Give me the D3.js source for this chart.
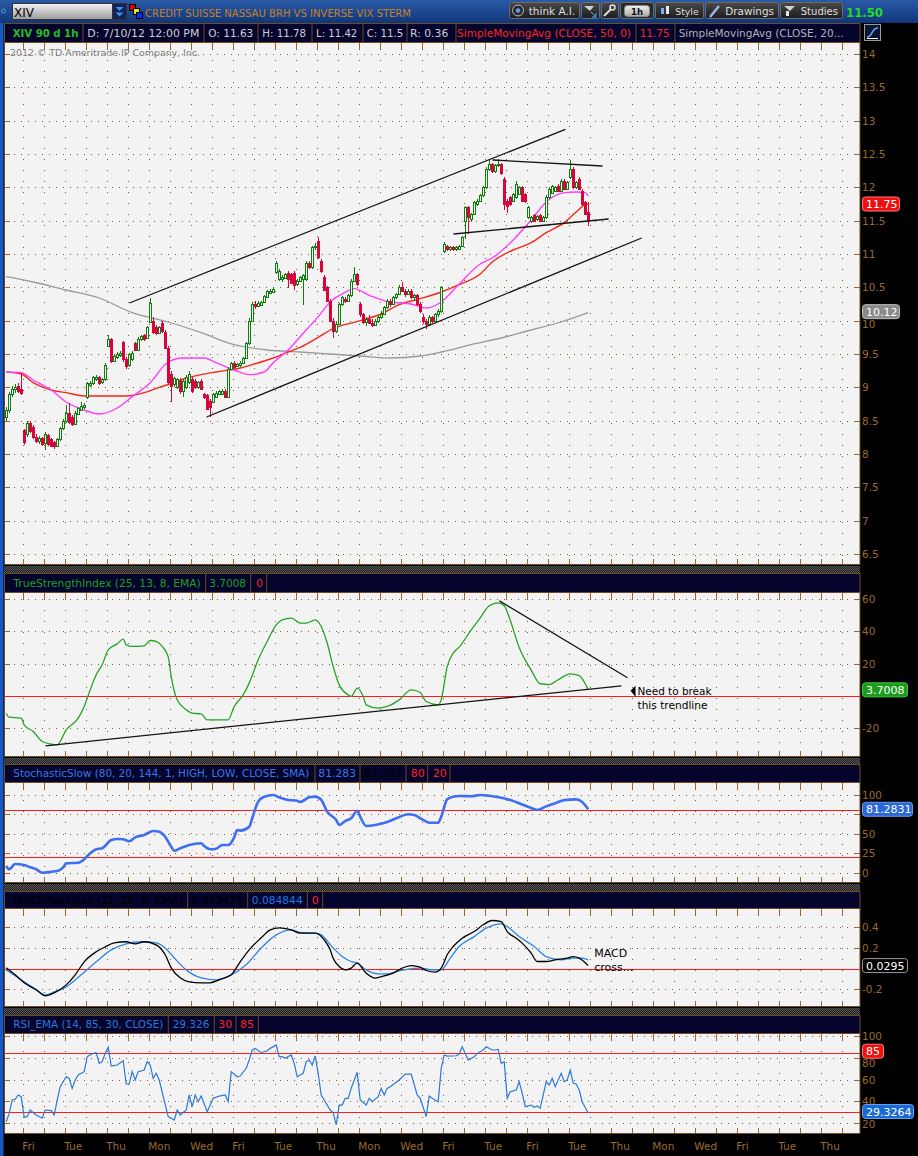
<!DOCTYPE html>
<html><head><meta charset="utf-8">
<script src="https://cdn.jsdelivr.net/npm/d3@7"></script>
<style>
html,body{margin:0;padding:0;background:#000;}
svg{display:block;font-family:"DejaVu Sans",sans-serif;}
</style></head><body><svg id="c" width="918" height="1156"></svg>
<script>
// ---------------- DATA ----------------
const dayLabels = ["Thu","Fri","Mon","Tue","Wed","Thu","Fri","Mon","Tue","Wed","Thu","Fri","Mon","Tue","Wed","Thu","Fri","Mon","Tue","Wed","Thu","Fri","Mon","Tue","Thu","Fri","Mon","Tue","Wed","Thu","Fri","Mon","Tue","Wed","Thu","Fri","Mon","Tue","Wed","Thu","Fri"];
const BARS_PER_DAY = 7;
const priceTicks = [6.5,7,7.5,8,8.5,9,9.5,10,10.5,11,11.5,12,12.5,13,13.5,14];
const tsiTicks = [60,40,20,0,-20];
const stochTicks = [100,75,50,25,0];
const macdTicks = [0.4,0.2,0,-0.2];
const rsiTicks = [100,80,60,40,20];

// hourly candles [open, high, low, close]
const ohlc = [
 [8.78,8.82,8.55,8.6],[8.55,8.7,8.5,8.66],[8.66,8.93,8.62,8.9],[8.9,9.02,8.86,8.98],[8.98,9.05,8.92,9.01],[9.02,9.06,8.92,8.95],[8.98,9.22,8.88,8.92],
 [8.36,8.38,8.13,8.18],[8.3,8.5,8.26,8.47],[8.46,8.5,8.32,8.35],[8.4,8.43,8.22,8.25],[8.25,8.3,8.16,8.2],[8.2,8.27,8.15,8.24],[8.24,8.26,8.12,8.15],
 [8.17,8.33,8.06,8.3],[8.28,8.3,8.12,8.15],[8.22,8.24,8.1,8.12],[8.18,8.2,8.08,8.12],[8.12,8.24,8.1,8.22],[8.22,8.41,8.2,8.39],[8.39,8.52,8.36,8.5],
 [8.5,8.74,8.47,8.62],[8.62,8.76,8.45,8.48],[8.55,8.58,8.42,8.45],[8.45,8.64,8.43,8.62],[8.6,8.71,8.58,8.69],[8.66,8.78,8.64,8.72],[8.7,8.76,8.68,8.74],
 [8.85,9.08,8.82,9.06],[9.03,9.1,9.0,9.07],[9.06,9.17,9.04,9.15],[9.12,9.19,9.1,9.16],[9.15,9.17,9.04,9.06],[9.08,9.14,9.05,9.12],[9.12,9.36,9.1,9.34],
 [9.62,9.79,9.6,9.72],[9.72,9.74,9.36,9.4],[9.4,9.5,9.38,9.47],[9.45,9.53,9.43,9.5],[9.48,9.55,9.46,9.52],[9.68,9.7,9.38,9.42],[9.42,9.45,9.28,9.32],
 [9.33,9.52,9.3,9.5],[9.42,9.55,9.4,9.52],[9.66,9.68,9.54,9.56],[9.56,9.75,9.54,9.73],[9.72,9.79,9.7,9.77],[9.78,9.8,9.7,9.72],[9.74,9.92,9.72,9.9],
 [9.98,10.34,9.96,10.27],[10.0,10.06,9.8,9.83],[9.9,9.93,9.79,9.81],[9.82,9.92,9.8,9.9],[9.96,9.99,9.82,9.84],[9.83,9.86,9.57,9.59],[9.59,9.62,9.05,9.08],
 [9.2,9.25,8.78,9.02],[9.05,9.16,9.0,9.14],[9.0,9.14,8.97,9.12],[9.11,9.14,8.9,8.94],[8.94,9.12,8.85,9.1],[9.0,9.18,8.98,9.15],[9.08,9.25,9.05,9.2],
 [9.12,9.15,8.92,8.95],[9.1,9.12,8.98,9.0],[9.0,9.1,8.97,9.08],[9.1,9.12,8.96,8.98],[8.9,8.92,8.83,8.85],[8.88,8.9,8.66,8.68],[8.8,8.82,8.55,8.7],
 [8.78,8.92,8.76,8.9],[8.86,8.94,8.84,8.92],[8.9,8.96,8.88,8.94],[8.9,8.97,8.88,8.95],[8.95,8.97,8.84,8.86],[8.86,9.3,8.84,9.28],[9.28,9.38,9.26,9.36],
 [9.37,9.4,9.28,9.3],[9.32,9.37,9.3,9.35],[9.33,9.4,9.31,9.37],[9.37,9.46,9.35,9.44],[9.44,9.68,9.42,9.66],[9.66,10.04,9.64,10.0],[10.0,10.28,9.98,10.25],
 [10.25,10.29,10.18,10.22],[10.22,10.3,10.2,10.27],[10.24,10.3,10.22,10.28],[10.28,10.39,10.26,10.37],[10.36,10.46,10.34,10.44],[10.42,10.47,10.4,10.45],[10.43,10.5,10.41,10.47],
 [10.73,10.9,10.7,10.87],[10.63,10.77,10.6,10.75],[10.62,10.68,10.58,10.66],[10.64,10.72,10.62,10.7],[10.72,10.74,10.49,10.62],[10.7,10.72,10.55,10.57],[10.72,10.74,10.46,10.54],
 [10.55,10.62,10.52,10.6],[10.6,10.67,10.58,10.65],[10.63,10.7,10.24,10.68],[10.62,10.89,10.6,10.87],[10.87,10.9,10.78,10.8],[10.8,11.12,10.78,11.1],[11.1,11.16,11.06,11.12],
 [11.2,11.25,10.93,10.95],[10.9,10.92,10.72,10.75],[10.65,10.68,10.44,10.46],[10.5,10.52,10.28,10.3],[10.3,10.33,9.98,10.0],[10.0,10.04,9.74,9.85],[9.85,9.98,9.82,9.95],
 [9.95,10.27,9.93,10.25],[10.25,10.37,10.22,10.35],[10.33,10.36,10.26,10.3],[10.3,10.4,10.28,10.38],[10.38,10.62,10.36,10.6],[10.6,10.8,10.58,10.7],[10.7,10.72,10.52,10.55],
 [10.25,10.28,10.05,10.1],[10.1,10.12,9.95,9.98],[9.98,10.05,9.92,10.02],[10.02,10.08,9.95,9.97],[9.97,10.03,9.9,9.94],[9.94,10.02,9.92,10.0],[10.0,10.08,9.97,10.05],
 [10.05,10.14,10.02,10.1],[10.1,10.22,10.08,10.2],[10.2,10.32,10.17,10.3],[10.3,10.33,10.2,10.25],[10.25,10.37,10.23,10.35],[10.35,10.42,10.32,10.4],[10.4,10.53,10.38,10.5],
 [10.5,10.58,10.43,10.45],[10.45,10.48,10.36,10.4],[10.4,10.48,10.38,10.45],[10.45,10.47,10.32,10.35],[10.35,10.4,10.3,10.38],[10.38,10.4,10.22,10.25],[10.25,10.28,10.12,10.15],
 [10.05,10.1,9.95,10.0],[10.0,10.03,9.88,9.95],[9.95,10.08,9.92,10.05],[10.05,10.07,9.96,10.0],[10.0,10.12,9.98,10.1],[10.1,10.18,10.06,10.15],[10.15,10.52,10.12,10.5],
 [11.05,11.18,11.02,11.15],[11.12,11.14,11.05,11.08],[11.08,11.12,11.05,11.1],[11.1,11.12,11.04,11.07],[11.07,11.12,11.05,11.1],[11.08,11.14,11.06,11.12],[11.12,11.27,11.1,11.25],
 [11.5,11.72,11.22,11.7],[11.7,11.72,11.3,11.55],[11.52,11.62,11.48,11.6],[11.6,11.8,11.58,11.78],[11.75,11.83,11.72,11.8],[11.8,11.9,11.78,11.88],[11.88,12.02,11.86,12.0],
 [12.0,12.3,11.98,12.28],[12.28,12.42,12.25,12.35],[12.35,12.37,12.22,12.25],[12.25,12.35,12.22,12.33],[12.33,12.42,12.3,12.35],[12.35,12.37,12.18,12.22],[12.12,12.15,11.66,11.75],
 [11.8,11.82,11.62,11.72],[11.85,11.87,11.72,11.75],[11.8,11.92,11.78,11.9],[11.85,12.1,11.83,12.05],[11.9,12.02,11.88,12.0],[12.0,12.02,11.78,11.8],[11.9,11.92,11.76,11.8],
 [11.55,11.72,11.52,11.7],[11.5,11.57,11.47,11.55],[11.58,11.6,11.48,11.5],[11.52,11.59,11.5,11.57],[11.58,11.6,11.48,11.5],[11.5,11.57,11.48,11.55],[11.55,11.88,11.53,11.85],
 [11.85,12.0,11.83,11.98],[11.92,12.04,11.9,12.02],[11.95,12.02,11.93,12.0],[12.02,12.05,11.93,11.95],[11.95,12.12,11.93,12.1],[12.1,12.12,11.96,11.98],[11.98,12.1,11.96,12.08],
 [12.15,12.41,12.12,12.28],[12.28,12.3,11.98,12.0],[12.0,12.1,11.98,12.08],[12.12,12.15,11.96,11.98],[11.95,11.97,11.72,11.75],[11.78,11.8,11.58,11.6],[11.63,11.78,11.42,11.5]
];

// moving averages: [bar, value]
const sma20 = [[1,9.23],[6,9.22],[10,9.11],[16,8.96],[21,8.78],[27,8.66],[32,8.6],[38,8.69],[43,8.86],[49,9.07],[55,9.38],[60,9.44],[67,9.44],[71,9.37],[77,9.26],[82,9.19],[87,9.23],[90,9.37],[95,9.56],[99,9.76],[105,10.06],[109,10.28],[113,10.4],[117,10.48],[122,10.38],[129,10.28],[136,10.25],[141,10.19],[146,10.28],[152,10.55],[159,10.85],[163,10.94],[170,11.21],[176,11.51],[181,11.78],[187,11.92],[191,11.93],[194,11.92],[195,11.87]];
const sma50 = [[1,9.23],[6,9.2],[10,9.07],[16,8.96],[21,8.92],[27,8.87],[32,8.87],[41,8.87],[47,8.92],[52,9.0],[57,9.07],[61,9.14],[66,9.19],[71,9.23],[79,9.29],[83,9.34],[90,9.44],[95,9.53],[99,9.6],[105,9.75],[109,9.86],[119,10.0],[126,10.1],[132,10.24],[139,10.33],[146,10.43],[152,10.54],[159,10.7],[163,10.88],[170,11.06],[176,11.17],[181,11.32],[187,11.47],[191,11.63],[194,11.74],[195,11.75]];
const sma200 = [[1,10.66],[10,10.58],[21,10.46],[32,10.34],[43,10.12],[55,9.98],[66,9.82],[77,9.64],[88,9.56],[99,9.53],[109,9.5],[119,9.47],[129,9.44],[139,9.47],[146,9.53],[156,9.64],[166,9.74],[176,9.86],[186,9.98],[195,10.12]];

// drawn trend lines on price: [[bar,price],[bar,price]]
const priceTrendLines = [
 [[42.6,10.265],[187.9,12.87]],
 [[68.3,8.555],[213.3,11.24]],
 [[163.6,12.41],[200.3,12.32]],
 [[150.6,11.3],[202.3,11.525]]
];

const tsi = [[1,-10.8],[2,-13.3],[6,-13.9],[7,-18],[10,-22.2],[13,-28.4],[16,-30],[18,-30.5],[21,-21.1],[25,-13.9],[27,-6.6],[29,3.7],[31,13.1],[33,19.3],[35,28.6],[38,32.3],[40,35.2],[41,31.7],[43,30.7],[47,31.1],[49,34.4],[51,33.8],[53,30.7],[55,24.4],[56,12],[58,-2.5],[61,-8.7],[63,-10.8],[66,-11.2],[68,-14.9],[71,-14.9],[75,-14.9],[77,-6.6],[80,0.6],[82,7.9],[85,22.4],[88,33.8],[91,44.1],[93,47.2],[96,48.3],[99,45.2],[101,45.2],[104,47.2],[106,43.1],[108,32.8],[110,18.2],[112,6.8],[115,0.6],[116,-0.4],[118,4.8],[120,-0.4],[121,-5.6],[125,-7.7],[128,-6.6],[132,-2.5],[136,3.7],[139,2.1],[141,-3.5],[145,-5.6],[146,-2.5],[148,18.2],[150,26.5],[152,30.3],[156,41],[159,48.5],[162,56],[165,57.8],[167,56],[169,47],[172,30],[176,16],[179,7.5],[182,7],[185,10],[189,13.7],[192,12.5],[194,7.5],[195,3.7]];
const tsiTrendLines = [
 [[14.6,-31.1],[206.6,6.2]],
 [[165.9,59.0],[208.6,11.2]]
];

const stoch = [[1,8.9],[2,4.7],[4,11.4],[7,10.2],[9,7.2],[11,4.7],[13,0.3],[16,1.6],[18,2.5],[20,7.2],[21,12.3],[25,13.1],[27,17.4],[29,25.1],[31,30.2],[33,31.5],[36,42.1],[38,43.4],[40,43.0],[42,40.4],[44,45.5],[47,48.5],[50,53.6],[52,52.7],[54,46.3],[56,33.5],[57,28.4],[59,31.5],[62,35.7],[66,37.9],[67,34.4],[69,30.2],[71,31.0],[73,35.7],[75,35.7],[77,45.5],[78,54.9],[79,54.0],[82,59.1],[83,69.8],[85,91.0],[87,97.4],[90,99.5],[92,96.6],[95,93.2],[98,92.3],[99,90.6],[102,96.6],[104,97.4],[106,93.2],[108,78.2],[111,67.6],[112,61.2],[114,66.3],[116,69.8],[118,79.5],[119,71.8],[121,60.0],[124,61.2],[128,65.1],[131,69.8],[135,74.9],[137,74.0],[140,67.6],[142,64.2],[145,64.2],[146,71.8],[148,94.0],[150,97.4],[152,98.3],[156,98],[159,99.5],[162,98.5],[166,96],[169,93],[172,89],[176,83],[178,80.4],[181,85],[184,89],[187,93],[191,94],[193,90.6],[195,81.3]];

const macdLine = [[1,0.008],[4,-0.06],[7,-0.137],[11,-0.205],[14,-0.263],[17,-0.234],[21,-0.157],[24,-0.06],[27,0.066],[31,0.163],[34,0.211],[37,0.25],[41,0.26],[44,0.24],[47,0.26],[51,0.23],[54,0.134],[56,0.008],[59,-0.089],[62,-0.128],[66,-0.137],[69,-0.137],[72,-0.108],[76,-0.06],[79,0.066],[82,0.182],[86,0.298],[89,0.376],[92,0.395],[96,0.376],[99,0.344],[104,0.344],[107,0.279],[109,0.182],[110,0.10],[112,0.02],[114,-0.012],[116,0.005],[118,0.053],[121,-0.044],[124,-0.092],[127,-0.07],[130,-0.044],[133,0.005],[136,0.03],[139,0.015],[141,-0.018],[144,-0.034],[146,0.005],[148,0.134],[150,0.214],[153,0.295],[157,0.359],[160,0.424],[163,0.466],[166,0.456],[168,0.359],[171,0.295],[173,0.247],[176,0.15],[178,0.069],[181,0.069],[184,0.085],[188,0.102],[190,0.117],[192,0.102],[195,0.0295]];
const macdAvg = [[1,-0.012],[6,-0.108],[11,-0.205],[14,-0.254],[17,-0.225],[21,-0.176],[26,-0.06],[31,0.066],[36,0.182],[41,0.24],[46,0.26],[51,0.25],[54,0.2],[57,0.105],[61,-0.012],[66,-0.089],[71,-0.108],[76,-0.06],[81,0.037],[86,0.2],[91,0.327],[96,0.376],[99,0.35],[104,0.344],[106,0.327],[110,0.2],[113,0.118],[116,0.069],[118,0.053],[121,-0.012],[125,-0.05],[128,-0.05],[131,-0.028],[135,-0.005],[139,0.005],[143,-0.012],[146,-0.012],[149,0.102],[152,0.214],[157,0.31],[161,0.392],[166,0.434],[168,0.408],[172,0.31],[177,0.214],[181,0.117],[186,0.085],[190,0.102],[193,0.102],[195,0.0848]];

const rsi = [[1,21.3],[2,29.0],[3,41.3],[4,42.0],[5,46.0],[6,44.4],[7,25.4],[8,26.0],[9,32.1],[10,29.6],[11,27.5],[13,24.5],[14,32.1],[16,31.5],[17,27.5],[18,41.3],[19,53.6],[21,62.8],[22,61.3],[23,52.1],[24,59.8],[25,64.4],[27,67.5],[28,81.3],[30,84.4],[31,85.0],[32,75.2],[33,76.7],[34,84.4],[35,90.0],[36,72.7],[38,73.6],[40,77.6],[41,56.1],[42,56.1],[43,67.5],[44,59.8],[45,67.5],[47,69.0],[48,76.7],[49,73.6],[50,61.3],[51,66.0],[52,59.8],[55,26.0],[56,24.5],[57,22.9],[58,32.1],[59,27.5],[61,32.1],[62,46.0],[63,35.2],[64,46.0],[65,39.8],[66,45.0],[68,30.6],[70,42.9],[72,45.0],[74,46.0],[75,39.8],[76,67.5],[78,62.8],[79,63.5],[81,70.6],[82,78.2],[83,87.5],[84,89.0],[86,85.0],[88,86.8],[89,89.0],[91,92.1],[92,81.3],[93,81.3],[94,79.8],[96,82.9],[97,75.2],[98,62.8],[99,64.4],[100,66.0],[101,76.7],[102,78.2],[103,73.6],[104,81.9],[105,66.0],[106,46.0],[107,41.3],[109,32.1],[110,29.6],[111,18.3],[112,36.7],[113,36.7],[114,42.9],[115,42.9],[116,52.1],[118,66.9],[119,41.3],[121,36.7],[122,42.9],[123,39.8],[125,44.4],[126,52.1],[127,46.0],[128,52.1],[129,53.6],[132,59.8],[134,65.3],[136,65.3],[138,46.0],[139,42.9],[141,26.0],[142,45.0],[143,42.9],[145,39.8],[146,70.6],[147,82.9],[148,81.9],[151,82.2],[152,83.8],[153,90.5],[154,84.4],[155,78.2],[157,81.3],[158,84.4],[160,87.5],[161,90.5],[163,87.5],[164,87.5],[165,88.1],[166,75.2],[167,76.7],[168,42.9],[169,49.0],[171,50.6],[172,58.2],[173,47.5],[174,35.2],[176,36.7],[177,34.6],[178,35.8],[179,33.7],[181,58.2],[182,55.2],[183,61.4],[184,53.6],[186,66.0],[187,58.2],[188,59.8],[189,69.0],[190,56.8],[191,56.1],[192,50.6],[193,39.8],[195,29.3]];

// ---------------- DRAWING ----------------
const svg = d3.select("#c");
const W = 918, H = 1156, L = 5, R = 860;
const BROWN = "#6f4b1f", LABEL = "#9a6a2e", DOT = "#8b5a2b";
const GREEN = "#0e7d0e", RED = "#d4063c";
const nDays = dayLabels.length;
const x = d3.scaleLinear().domain([0, BARS_PER_DAY * nDays]).range([1.7, 862.7]);
const bx = i => x(i + 0.5);

// fit a text into a given width: shrink the font if the natural width is too large, then pin the length
function fitText(el, w, baseSize) {
  const n = el.node().getComputedTextLength();
  if (n > w) el.attr("font-size", (baseSize * w / n).toFixed(2));
  el.attr("textLength", w).attr("lengthAdjust", "spacingAndGlyphs");
  return el;
}

svg.append("rect").attr("width", W).attr("height", H).attr("fill", "#000");
const defs = svg.append("defs");
const pat = defs.append("pattern").attr("id", "hatch").attr("width", 2).attr("height", 2).attr("patternUnits", "userSpaceOnUse");
pat.append("rect").attr("width", 2).attr("height", 2).attr("fill", "#1e1e1e");
pat.append("rect").attr("width", 1).attr("height", 1).attr("fill", "#595959");
pat.append("rect").attr("x", 1).attr("y", 1).attr("width", 1).attr("height", 1).attr("fill", "#595959");
function grad(id, c0, c1) {
  const g = defs.append("linearGradient").attr("id", id).attr("x1", 0).attr("y1", 0).attr("x2", 0).attr("y2", 1);
  g.append("stop").attr("offset", "0").attr("stop-color", c0);
  g.append("stop").attr("offset", "1").attr("stop-color", c1);
}
grad("tbg", "#2a5aa6", "#0f367c");
grad("inp", "#f2f2f2", "#9c9c9c");
grad("btn", "#4a4a4a", "#1c1c1c");
grad("btnL", "#f0f0f0", "#a8a8a8");

// ---- toolbar ----
svg.append("rect").attr("width", W).attr("height", 23).attr("fill", "url(#tbg)");
svg.append("circle").attr("cx", 3.5).attr("cy", 11).attr("r", 2).attr("fill", "none").attr("stroke", "#5a9ae0");
svg.append("rect").attr("x", 12.5).attr("y", 3.5).attr("width", 100).attr("height", 16).attr("fill", "url(#inp)").attr("stroke", "#333");
svg.append("text").attr("x", 14).attr("y", 16.5).attr("font-size", 12).attr("fill", "#000").text("XIV");
svg.append("rect").attr("x", 112.5).attr("y", 3.5).attr("width", 14).attr("height", 16).attr("fill", "#122456").attr("stroke", "#333");
[7, 12.5].forEach(t => svg.append("path").attr("d", `M115.5,${t} h8 l-4,4 z`).attr("fill", "#3d8ff0"));
svg.append("rect").attr("x", 129.5).attr("y", 4.5).attr("width", 6).attr("height", 6).attr("fill", "#e00000").attr("stroke", "#000");
svg.append("rect").attr("x", 133.5).attr("y", 8.5).attr("width", 6).attr("height", 6).attr("fill", "#f5e400").attr("stroke", "#000");
svg.append("rect").attr("x", 136.5).attr("y", 12.5).attr("width", 6).attr("height", 6).attr("fill", "#0028ff").attr("stroke", "#000");
fitText(svg.append("text").attr("x", 145).attr("y", 16.7).attr("font-size", 12).attr("fill", "#c8801a")
  .text("CREDIT SUISSE NASSAU BRH VS INVERSE VIX STERM"), 266, 12);

function button(x0, x1, label, tx, tw, light) {
  svg.append("rect").attr("x", x0 + 0.5).attr("y", 2.5).attr("width", x1 - x0).attr("height", 16).attr("rx", 2)
    .attr("fill", light ? "#2a2a2a" : "url(#btn)").attr("stroke", "#6c6c6c");
  if (light) svg.append("rect").attr("x", x0 + 4.5).attr("y", 5.5).attr("width", x1 - x0 - 8).attr("height", 11).attr("rx", 3)
    .attr("fill", "url(#btnL)").attr("stroke", "#888");
  if (label) fitText(svg.append("text").attr("x", tx).attr("y", 15).attr("font-size", 11).attr("fill", light ? "#111" : "#dedede")
    .attr("font-weight", light ? "bold" : "normal").text(label), tw, 11);
}
button(509, 579, "think A.I.", 528.7, 46.6);
svg.append("circle").attr("cx", 518).attr("cy", 10.5).attr("r", 5.5).attr("fill", "#2c2c2c").attr("stroke", "#b8b8b8");
svg.append("circle").attr("cx", 518).attr("cy", 10.5).attr("r", 2.2).attr("fill", "#5aa0e8");
button(581, 599, null);
svg.append("path").attr("d", "M584,6 l10,0 l-4,5 z").attr("fill", "#cfcfcf");
svg.append("path").attr("d", "M591,12 l5,5 M596,13 v4 h-4").attr("stroke", "#6ab0ff").attr("fill", "none");
button(601, 618, null);
svg.append("path").attr("d", "M604,16 l7,-7").attr("stroke", "#e0e0e0").attr("stroke-width", 2);
svg.append("circle").attr("cx", 612.5).attr("cy", 7.5).attr("r", 2.5).attr("fill", "none").attr("stroke", "#e0e0e0").attr("stroke-width", 1.5);
button(620, 653, "1h", 631, 12, true);
button(655, 703, "Style", 675.3, 23.4);
svg.append("rect").attr("x", 661).attr("y", 8).attr("width", 3).attr("height", 6).attr("fill", "#7ab0ff");
svg.append("rect").attr("x", 666).attr("y", 6).attr("width", 3).attr("height", 8).attr("fill", "#e8e8e8");
button(705, 778, "Drawings", 725.3, 48.7);
svg.append("path").attr("d", "M710,17 l9,-11").attr("stroke", "#9ab8e8").attr("stroke-width", 2.5);
button(780, 842, "Studies", 800.7, 37.3);
svg.append("path").attr("d", "M784,6 l11,0 l-5,5 z").attr("fill", "#cfcfcf");
svg.append("rect").attr("x", 786).attr("y", 11).attr("width", 3).attr("height", 5).attr("fill", "#e8e8e8");
fitText(svg.append("text").attr("x", 846).attr("y", 17.3).attr("font-size", 15).attr("font-weight", "bold").attr("fill", "#24dc24")
  .text("11.50"), 37, 15);

// left blue strip
svg.append("rect").attr("x", 0).attr("y", 23).attr("width", 3.5).attr("height", H - 23).attr("fill", "#1658c4");

// icon right of the price header
svg.append("rect").attr("x", 864.5).attr("y", 24.5).attr("width", 16).attr("height", 16).attr("fill", "#0c1430").attr("stroke", "#9a9a9a");
svg.append("path").attr("d", "M867,37 C873,37 871,28 878,28").attr("stroke", "#5ab0ff").attr("stroke-width", 1.6).attr("fill", "none");
svg.append("path").attr("d", "M867,38.5 h11").attr("stroke", "#fff");

// ---- header bars ----
function header(y0, y1, seps, texts) {
  svg.append("rect").attr("x", L - 0.5).attr("y", y0 + 0.5).attr("width", R - L + 0.5).attr("height", y1 - y0 - 1)
    .attr("fill", "#04042c").attr("stroke", BROWN);
  seps.forEach(s => svg.append("line").attr("x1", s).attr("x2", s).attr("y1", y0).attr("y2", y1).attr("stroke", BROWN));
  texts.forEach(t => {
    const el = svg.append("text").attr("x", t.x).attr("y", t.y).attr("font-size", 11).attr("fill", t.c)
      .attr("font-weight", t.b ? "bold" : "normal").text(t.t);
    if (t.w) fitText(el, t.w, 11);
  });
}
function sep(y0, y1) {
  svg.append("rect").attr("x", 4).attr("y", y0).attr("width", R - 4).attr("height", y1 - y0).attr("fill", "url(#hatch)");
}

// ---- panel frame ----
// hiddenLabels: tick values whose label sits under a value badge (not visible in the reference)
function panel(top, bottom, yS, ticks, fmt, hiddenLabels) {
  const hidden = hiddenLabels || [];
  const g = svg.append("g");
  g.append("rect").attr("x", L).attr("y", top).attr("width", R - L).attr("height", bottom - top).attr("fill", "#f3f3f3");
  ticks.forEach(t => {
    const yy = Math.round(yS(t)) + 0.5;
    if (yy > top + 2 && yy < bottom - 2)
      g.append("line").attr("x1", L + 2).attr("x2", R).attr("y1", yy).attr("y2", yy)
        .attr("stroke", DOT).attr("stroke-dasharray", "1,6");
    g.append("line").attr("x1", L).attr("x2", L + 5).attr("y1", yy).attr("y2", yy).attr("stroke", LABEL);
    g.append("line").attr("x1", R - 6).attr("x2", R).attr("y1", yy).attr("y2", yy).attr("stroke", LABEL);
  });
  for (let d = 1; d < nDays; d++) {
    const xx = Math.round(x(d * BARS_PER_DAY)) + 0.5;
    if (xx > R) continue;
    g.append("line").attr("x1", xx).attr("x2", xx).attr("y1", top + 6).attr("y2", bottom - 6)
      .attr("stroke", DOT).attr("stroke-dasharray", "1,10");
    g.append("line").attr("x1", xx).attr("x2", xx).attr("y1", top).attr("y2", top + 6).attr("stroke", LABEL);
    g.append("line").attr("x1", xx).attr("x2", xx).attr("y1", bottom - 6).attr("y2", bottom).attr("stroke", LABEL);
  }
  g.append("rect").attr("x", L - 0.5).attr("y", top - 0.5).attr("width", R - L + 0.5).attr("height", bottom - top)
    .attr("fill", "none").attr("stroke", BROWN);
  ticks.filter(t => !hidden.includes(t)).forEach(t => svg.append("text").attr("x", 862).attr("y", yS(t) + 4).attr("font-size", 10.5)
    .attr("fill", LABEL).text(fmt(t)));
  const id = "clip" + top;
  defs.append("clipPath").attr("id", id).append("rect").attr("x", L).attr("y", top).attr("width", R - L).attr("height", bottom - top);
  return svg.append("g").attr("clip-path", `url(#${id})`);
}
function badge(yc, text, fill, stroke, w) {
  svg.append("rect").attr("x", 862.5).attr("y", yc - 7).attr("width", w).attr("height", 14).attr("rx", 3)
    .attr("fill", fill).attr("stroke", stroke);
  svg.append("text").attr("x", 866).attr("y", yc + 4.2).attr("font-size", 11).attr("fill", "#fff").text(text);
}
const trend = (g, pts, yS) => g.append("line").attr("x1", x(pts[0][0])).attr("y1", yS(pts[0][1]))
  .attr("x2", x(pts[1][0])).attr("y2", yS(pts[1][1])).attr("stroke", "#141414").attr("stroke-width", 1.3);
const lineGen = (yS, curve) => d3.line().x(d => bx(d[0])).y(d => yS(d[1])).curve(curve || d3.curveMonotoneX);
const hline = (g, yy, color) => g.append("line").attr("x1", L).attr("x2", R).attr("y1", yy).attr("y2", yy).attr("stroke", color).attr("stroke-width", 1.2);

// ================= PRICE PANEL =================
header(23, 43, [83, 204, 258, 312, 363, 407, 456, 636, 675], [
  {x: 12.7, y: 37, t: "XIV 90 d 1h", c: "#22c022", b: true, w: 65.7},
  {x: 87.3, y: 37, t: "D: 7/10/12 12:00 PM", c: "#cfcfcf", w: 112},
  {x: 208.3, y: 37, t: "O: 11.63", c: "#cfcfcf", w: 45},
  {x: 262.3, y: 37, t: "H: 11.78", c: "#cfcfcf", w: 43.7},
  {x: 316, y: 37, t: "L: 11.42", c: "#cfcfcf", w: 41.3},
  {x: 366.7, y: 37, t: "C: 11.5", c: "#cfcfcf", w: 36.7},
  {x: 410, y: 37, t: "R: 0.36", c: "#cfcfcf", w: 38.3},
  {x: 457, y: 37, t: "SimpleMovingAvg (CLOSE, 50, 0)", c: "#ff2424", w: 174},
  {x: 639.7, y: 37, t: "11.75", c: "#ff2424", w: 30},
  {x: 678.7, y: 37, t: "SimpleMovingAvg (CLOSE, 20...", c: "#b4b4b4", w: 165}
]);
const yP = d3.scaleLinear().domain([6.5, 14]).range([554, 54]);
const gP = panel(43, 565, yP, priceTicks, d => String(d), [10]);
// the "10" label peeks out just below the 10.12 badge in the reference
svg.append("text").attr("x", 862).attr("y", yP(10) + 7.5).attr("font-size", 10.5).attr("fill", LABEL).text("10");
fitText(svg.append("text").attr("x", 10).attr("y", 55.5).attr("font-size", 10.5).attr("fill", "#7c7c7c")
  .text("2012 \u00A9 TD Ameritrade IP Company, Inc."), 190, 10.5);

gP.append("path").datum(sma200).attr("d", lineGen(yP)).attr("fill", "none").attr("stroke", "#9a9a9a").attr("stroke-width", 1.3);
gP.append("path").datum(sma50).attr("d", lineGen(yP)).attr("fill", "none").attr("stroke", "#f02a18").attr("stroke-width", 1.4);
gP.append("path").datum(sma20).attr("d", lineGen(yP)).attr("fill", "none").attr("stroke", "#ff3cff").attr("stroke-width", 1.4);

const gC = gP.append("g").attr("shape-rendering", "crispEdges");
ohlc.forEach((d, i) => {
  const [o, h, l, c] = d;
  const cx = Math.round(bx(i));
  const col = c > o ? GREEN : (c < o ? RED : "#a0a0a0");
  gC.append("line").attr("x1", cx + 0.5).attr("x2", cx + 0.5).attr("y1", yP(h)).attr("y2", yP(l)).attr("stroke", col);
  const top = Math.round(yP(Math.max(o, c))), bot = Math.round(yP(Math.min(o, c)));
  if (c > o) {
    gC.append("rect").attr("x", cx - 0.5).attr("y", top + 0.5).attr("width", 2).attr("height", Math.max(1, bot - top))
      .attr("fill", "#f3f3f3").attr("stroke", col);
  } else {
    gC.append("rect").attr("x", cx - 1).attr("y", top).attr("width", 3).attr("height", Math.max(1, bot - top + 1)).attr("fill", col);
  }
});
priceTrendLines.forEach(p => trend(gP, p, yP));
badge(yP(11.75), "11.75", "#ee1010", "#ff7a7a", 37);
badge(yP(10.12) - 1, "10.12", "#8a8a8a", "#c0c0c0", 37);

sep(566, 573);

// ================= TSI =================
header(573, 593, [205.7, 250.7, 266.7], [
  {x: 13.3, y: 587, t: "TrueStrengthIndex (25, 13, 8, EMA)", c: "#1fa01f", w: 187.4},
  {x: 209.3, y: 587, t: "3.7008", c: "#1fa01f", w: 36.7},
  {x: 256, y: 587, t: "0", c: "#ff2020"}
]);
const yT = d3.scaleLinear().domain([-20, 60]).range([728, 599.3]);
const gT = panel(593, 757, yT, tsiTicks, d => String(d), [0]);
hline(gT, Math.round(yT(0)) + 0.5, "#ff1a1a");
gT.append("path").datum(tsi).attr("d", lineGen(yT)).attr("fill", "none").attr("stroke", "#26a326").attr("stroke-width", 1.3);
tsiTrendLines.forEach(p => trend(gT, p, yT));
const noteBar = 209.6, noteVal = 3.2;
gT.append("path").attr("d", `M${x(noteBar)},${yT(noteVal)} l5,-5 v11 z`).attr("fill", "#000");
fitText(gT.append("text").attr("x", x(noteBar) + 7).attr("y", yT(noteVal) + 4.5).attr("font-size", 11).attr("fill", "#000")
  .text("Need to break"), 74, 11);
fitText(gT.append("text").attr("x", x(noteBar) + 7).attr("y", yT(noteVal) + 18.5).attr("font-size", 11).attr("fill", "#000")
  .text("this trendline"), 70, 11);
badge(yT(3.7008), "3.7008", "#1a9c1a", "#46c846", 45);

sep(758, 764);

// ================= STOCHASTIC =================
header(764, 783, [315, 360, 406, 427.7, 450], [
  {x: 13.3, y: 777, t: "StochasticSlow (80, 20, 144, 1, HIGH, LOW, CLOSE, SMA)", c: "#3a78e6", w: 296},
  {x: 318.3, y: 777, t: "81.283", c: "#3a78e6", w: 37.7},
  {x: 364, y: 777, t: "81.283", c: "#000", w: 37.7},
  {x: 410.7, y: 777, t: "80", c: "#ff2020"},
  {x: 432.7, y: 777, t: "20", c: "#ff2020"}
]);
const yS = d3.scaleLinear().domain([20, 80]).range([857.3, 810.3]);
const gS = panel(783, 883, yS, stochTicks, d => String(d), [75]);
hline(gS, Math.round(yS(80)) + 0.5, "#ff1a1a");
hline(gS, Math.round(yS(20)) + 0.5, "#ff1a1a");
gS.append("path").datum(stoch).attr("d", lineGen(yS)).attr("fill", "none").attr("stroke", "#3f6ff0").attr("stroke-width", 2.6);
badge(yS(81.2831), "81.2831", "#2a68d8", "#6a9af0", 50);

sep(884, 891);

// ================= MACD =================
header(891, 909, [187.7, 247.7, 307.3, 322.7], [
  {x: 13.3, y: 904, t: "MACDTwoLines (12, 26, 9, EMA)", c: "#000", w: 169.4},
  {x: 191.7, y: 904, t: "0.029475", c: "#000", w: 51},
  {x: 251.7, y: 904, t: "0.084844", c: "#1a7ae0", w: 51},
  {x: 311.7, y: 904, t: "0", c: "#ff2020"}
]);
const yM = d3.scaleLinear().domain([-0.2, 0.4]).range([989.3, 927.3]);
const gM = panel(909, 1007, yM, macdTicks, d => String(d), [0]);
hline(gM, Math.round(yM(0)) + 0.5, "#ff1a1a");
gM.append("path").datum(macdAvg).attr("d", lineGen(yM)).attr("fill", "none").attr("stroke", "#2e86e0").attr("stroke-width", 1.3);
gM.append("path").datum(macdLine).attr("d", lineGen(yM)).attr("fill", "none").attr("stroke", "#000").attr("stroke-width", 1.3);
const macdNoteBar = 197.5;
gM.append("text").attr("x", x(macdNoteBar)).attr("y", yM(0.115)).attr("font-size", 11).attr("fill", "#000").text("MACD");
gM.append("text").attr("x", x(macdNoteBar)).attr("y", yM(-0.02)).attr("font-size", 11).attr("fill", "#000").text("cross...");
badge(yM(0.0295), "0.0295", "#000", "#9a9a9a", 45);

sep(1008, 1015);

// ================= RSI =================
header(1015, 1034, [168.3, 214.3, 236, 258.3], [
  {x: 13.3, y: 1028, t: "RSI_EMA (14, 85, 30, CLOSE)", c: "#2a7ad8", w: 150},
  {x: 172.7, y: 1028, t: "29.326", c: "#2a7ad8", w: 36.7},
  {x: 218.3, y: 1028, t: "30", c: "#ff2020"},
  {x: 240, y: 1028, t: "85", c: "#ff2020"}
]);
const yR = d3.scaleLinear().domain([30, 85]).range([1112.3, 1052.7]);
const gR = panel(1034, 1134, yR, rsiTicks, d => String(d), [80, 20]);
// the "80" and "20" labels peek out just below the value badges in the reference
svg.append("text").attr("x", 862).attr("y", yR(80) + 9).attr("font-size", 10.5).attr("fill", LABEL).text("80");
svg.append("text").attr("x", 862).attr("y", yR(20) + 5).attr("font-size", 10.5).attr("fill", LABEL).text("20");
hline(gR, Math.round(yR(85)) + 0.5, "#ff1a1a");
hline(gR, Math.round(yR(30)) + 0.5, "#ff1a1a");
gR.append("path").datum(rsi).attr("d", lineGen(yR, d3.curveLinear)).attr("fill", "none").attr("stroke", "#2a7ad8").attr("stroke-width", 1.2);
badge(yR(85) - 1.5, "85", "#ee1010", "#ff7a7a", 21);
badge(yR(29.3264) - 1.5, "29.3264", "#1a6ad6", "#6aa0f0", 51);

// ---- x axis day labels ----
dayLabels.forEach((lab, d) => {
  if (d % 2 === 1) {
    const xx = x(d * BARS_PER_DAY);
    if (xx < R - 10)
      svg.append("text").attr("x", xx - 0.5).attr("y", 1150).attr("font-size", 10.5).attr("fill", LABEL).text(lab);
  }
});
</script></body></html>
